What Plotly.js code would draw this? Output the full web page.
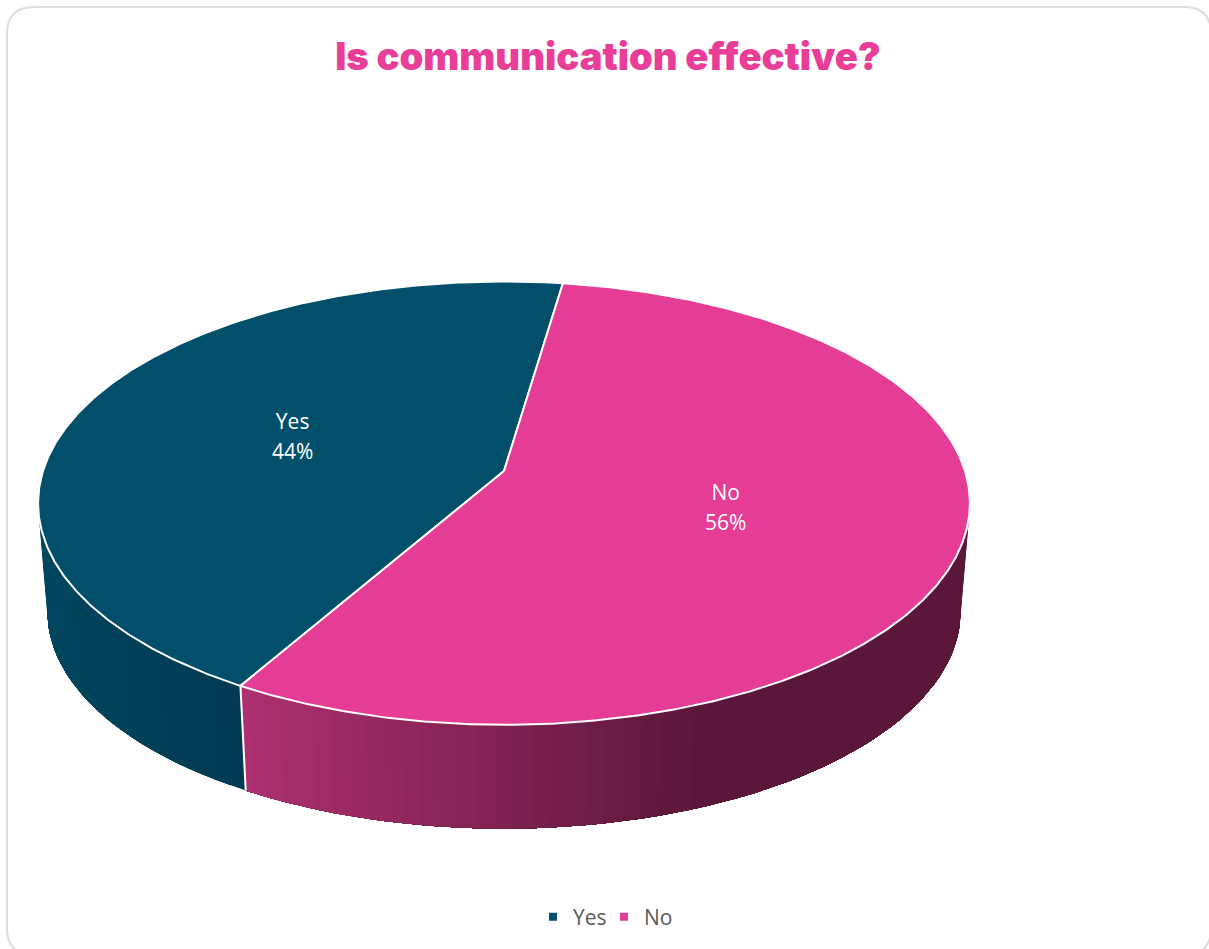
<!DOCTYPE html>
<html>
<head>
<meta charset="utf-8">
<title>Is communication effective?</title>
<script src="https://cdn.plot.ly/plotly-3.0.1.min.js"></script>
<style>
  html, body { margin: 0; padding: 0; background: #fff; overflow: hidden; }
  #chart { width: 1209px; height: 949px; }
</style>
</head>
<body>
<div id="chart"></div>
<script>
// Survey result
const categories = ['Yes', 'No'];
const shares = [44, 56];
const chartTitle = 'Is communication effective?';

// Slice palette
const topColors = ['#024F6C', '#E53C95'];
const wallStops = [
  [[41, '#02465F'], [246, '#013A51']],
  [[246, '#AE3070'], [700, '#5A1739'], [1000, '#5A1739']]
];

// Tilted disc seen in perspective: angle is clockwise from the far point
const firstSliceAngle = 210;
const persp = 0.1448;
const centerX = 504, topApexY = 471, depthScale = 0.98, lowerApexY = 580;
const radiusX = 461, radiusY = 217;

function project(deg, r, scale, apexY) {
  const t = deg * Math.PI / 180;
  const X = r * Math.sin(t), Y = -r * Math.cos(t);
  const w = 1 - persp * Y;
  return [centerX + scale * radiusX * X / w, apexY + scale * radiusY * Y / w];
}
const topPt = (deg, r = 1) => project(deg, r, 1, topApexY);
const lowPt = deg => project(deg, 1, depthScale, lowerApexY);

function hexToRgb(h) {
  return [1, 3, 5].map(i => parseInt(h.slice(i, i + 2), 16));
}
function wallColor(stops, x) {
  if (x <= stops[0][0]) return stops[0][1];
  for (let i = 1; i < stops.length; i++) {
    if (x <= stops[i][0]) {
      const f = (x - stops[i - 1][0]) / (stops[i][0] - stops[i - 1][0]);
      const a = hexToRgb(stops[i - 1][1]), b = hexToRgb(stops[i][1]);
      return 'rgb(' + a.map((v, k) => Math.round(v + (b[k] - v) * f)).join(',') + ')';
    }
  }
  return stops[stops.length - 1][1];
}

const total = shares.reduce((a, b) => a + b, 0);
let cursor = firstSliceAngle;
const slices = categories.map((name, i) => {
  const sweep = shares[i] / total * 360;
  const s = { name, share: shares[i], from: cursor, to: cursor + sweep, index: i };
  cursor += sweep;
  return s;
});

const traces = [];

// Side wall: each band is painted from its own angle to the end of the slice's
// visible run, so the next band overlaps it and no gaps show between them
const frontFrom = 75, frontTo = 285, stripStep = 2;
slices.forEach(s => {
  [0, 360, -360].forEach(shift => {
    const a = Math.max(s.from + shift, frontFrom), b = Math.min(s.to + shift, frontTo);
    for (let d = a; d < b; d += stripStep) {
      const upper = [], lower = [];
      for (let e = d; e < b; e += stripStep) { upper.push(topPt(e)); lower.push(lowPt(e)); }
      upper.push(topPt(b)); lower.push(lowPt(b));
      const pts = upper.concat(lower.reverse(), [upper[0]]);
      const col = wallColor(wallStops[s.index], (lowPt(d)[0] + lowPt(Math.min(d + stripStep, b))[0]) / 2);
      traces.push({
        type: 'scatter', mode: 'lines', fill: 'toself',
        x: pts.map(p => p[0]), y: pts.map(p => p[1]),
        fillcolor: col, line: { width: 0 },
        hoverinfo: 'skip', showlegend: false
      });
    }
  });
});

// White seam where the two walls meet
const seam = [topPt(slices[1].to % 360), lowPt(slices[1].to % 360)];
traces.push({
  type: 'scatter', mode: 'lines',
  x: seam.map(p => p[0]), y: seam.map(p => p[1]),
  line: { color: '#fff', width: 2 }, hoverinfo: 'skip', showlegend: false
});

// Top faces
slices.forEach(s => {
  const pts = [topPt(0, 0)];
  const n = Math.ceil((s.to - s.from) / 0.5);
  for (let i = 0; i <= n; i++) pts.push(topPt(s.from + (s.to - s.from) * i / n));
  pts.push(topPt(0, 0));
  traces.push({
    type: 'scatter', mode: 'lines', fill: 'toself', name: s.name,
    x: pts.map(p => p[0]), y: pts.map(p => p[1]),
    fillcolor: topColors[s.index], line: { color: '#fff', width: 2 },
    hoverinfo: 'skip', showlegend: false
  });
});

// Category and percentage labels, centred at about half the radius
const labelPts = slices.map(s => topPt((s.from + s.to) / 2, 0.497));
const lineOffset = 15, labelNudge = 2.5;
const labelFont = { family: '"Open Sans", sans-serif', size: 21, color: '#fff' };
[[s => s.name, -lineOffset], [s => s.share + '%', lineOffset]].forEach(([fmt, dy]) => {
  traces.push({
    type: 'scatter', mode: 'text',
    x: labelPts.map(p => p[0]), y: labelPts.map(p => p[1] + dy + labelNudge),
    text: slices.map(fmt),
    textposition: 'middle center',
    textfont: labelFont,
    hoverinfo: 'skip', showlegend: false
  });
});

// Legend keys
slices.forEach(s => {
  traces.push({
    type: 'scatter', mode: 'markers', name: s.name,
    x: [null], y: [null],
    marker: { symbol: 'square', size: 8, color: topColors[s.index] },
    hoverinfo: 'skip', showlegend: true
  });
});

const layout = {
  width: 1209, height: 949,
  margin: { l: 0, r: 0, t: 0, b: 0 },
  paper_bgcolor: '#fff', plot_bgcolor: 'rgba(0,0,0,0)',
  title: {
    text: chartTitle,
    x: 608 / 1209, xanchor: 'center',
    y: 1 - 57 / 949, yanchor: 'middle', yref: 'container',
    font: { family: 'Inter, sans-serif', size: 38.2, weight: 900, color: '#E83E97' }
  },
  xaxis: { visible: false, range: [0, 1209], fixedrange: true },
  yaxis: { visible: false, range: [949, 0], fixedrange: true },
  legend: {
    orientation: 'h', x: 533 / 1209, xanchor: 'left', y: 1 - 917 / 949, yanchor: 'middle',
    font: { family: '"Open Sans", sans-serif', size: 21, color: '#595959' },
    itemwidth: 30, entrywidth: 26, entrywidthmode: 'pixels', bgcolor: 'rgba(0,0,0,0)'
  },
  // Rounded card outline
  shapes: [{
    type: 'path', layer: 'below', xref: 'x', yref: 'y',
    path: 'M 34 7 L 1184 7 Q 1211 7 1211 34 L 1211 928 Q 1211 955 1184 955 L 34 955 Q 7 955 7 928 L 7 34 Q 7 7 34 7 Z',
    line: { color: '#DDDDDD', width: 2 }, fillcolor: 'rgba(0,0,0,0)'
  }]
};

Plotly.newPlot('chart', traces, layout, { displayModeBar: false, staticPlot: true });
</script>
</body>
</html>
